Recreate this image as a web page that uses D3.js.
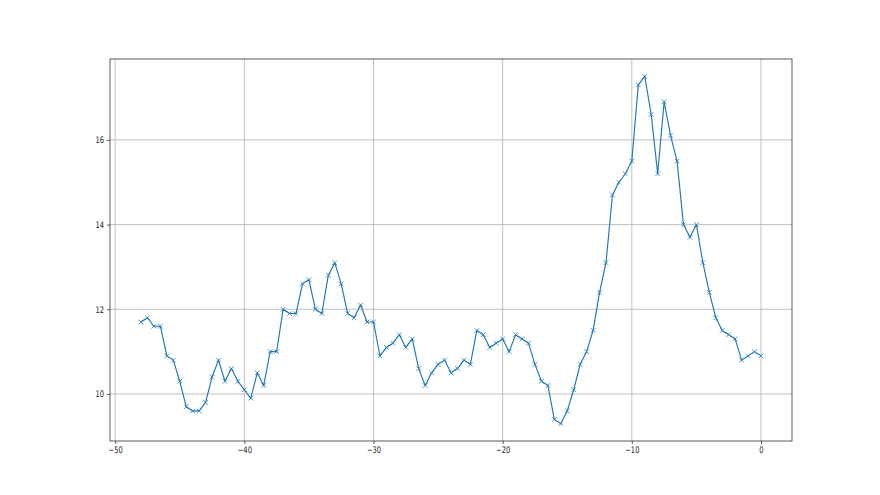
<!DOCTYPE html>
<html>
<head>
<meta charset="utf-8">
<script src="https://cdn.jsdelivr.net/npm/d3@7"></script>
<style>
  html, body { margin: 0; padding: 0; background: #fff; }
  svg { display: block; }
  text { font-family: "DejaVu Sans", sans-serif; }
</style>
</head>
<body>
<svg id="chart" width="880" height="495"></svg>
<script>
const xValues = d3.range(97).map(i => -48 + i * 0.5);
const yValues = [
  11.7, 11.8, 11.6, 11.6, 10.9, 10.8, 10.3, 9.7, 9.6, 9.6,
  9.8, 10.4, 10.8, 10.3, 10.6, 10.3, 10.1, 9.9, 10.5, 10.2,
  11.0, 11.0, 12.0, 11.9, 11.9, 12.6, 12.7, 12.0, 11.9, 12.8,
  13.1, 12.6, 11.9, 11.8, 12.1, 11.7, 11.7, 10.9, 11.1, 11.2,
  11.4, 11.1, 11.3, 10.6, 10.2, 10.5, 10.7, 10.8, 10.5, 10.6,
  10.8, 10.7, 11.5, 11.4, 11.1, 11.2, 11.3, 11.0, 11.4, 11.3,
  11.2, 10.7, 10.3, 10.2, 9.4, 9.3, 9.6, 10.1, 10.7, 11.0,
  11.5, 12.4, 13.1, 14.7, 15.0, 15.2, 15.5, 17.3, 17.5, 16.6,
  15.2, 16.9, 16.1, 15.5, 14.0, 13.7, 14.0, 13.1, 12.4, 11.8,
  11.5, 11.4, 11.3, 10.8, 10.9, 11.0, 10.9
];
const xTicks = [-50, -40, -30, -20, -10, 0];
const yTicks = [10, 12, 14, 16];

(function () {
const data = xValues.map((x, i) => ({ x, y: yValues[i] }));

const mLeft = 110, mRight = 792, mTop = 59, mBottom = 441;
const svg = d3.select("#chart");

const xMin = d3.min(xValues), xMax = d3.max(xValues);
const yMin = d3.min(yValues), yMax = d3.max(yValues);
const xPad = (xMax - xMin) * 0.05, yPad = (yMax - yMin) * 0.05;

const x = d3.scaleLinear().domain([xMin - xPad, xMax + xPad]).range([mLeft, mRight]);
const y = d3.scaleLinear().domain([yMin - yPad, yMax + yPad]).range([mBottom, mTop]);

// grid
const grid = svg.append("g");
grid.selectAll("line.vx").data(xTicks).enter().append("line")
  .attr("x1", d => x(d)).attr("x2", d => x(d))
  .attr("y1", mTop).attr("y2", mBottom)
  .attr("stroke", "#b0b0b0").attr("stroke-width", 0.8);
grid.selectAll("line.hy").data(yTicks).enter().append("line")
  .attr("y1", d => y(d)).attr("y2", d => y(d))
  .attr("x1", mLeft).attr("x2", mRight)
  .attr("stroke", "#b0b0b0").attr("stroke-width", 0.8);

// line
const line = d3.line().x(d => x(d.x)).y(d => y(d.y));
svg.append("path").datum(data)
  .attr("d", line)
  .attr("fill", "none")
  .attr("stroke", "#1f77b4")
  .attr("stroke-width", 1.15)
  .attr("stroke-linejoin", "round");

// markers
const ms = 2.3;
svg.append("g").selectAll("path").data(data).enter().append("path")
  .attr("d", d => {
    const cx = x(d.x), cy = y(d.y);
    return `M${cx - ms},${cy - ms}L${cx + ms},${cy + ms}M${cx - ms},${cy + ms}L${cx + ms},${cy - ms}`;
  })
  .attr("stroke", "#1f77b4")
  .attr("stroke-width", 0.8)
  .attr("fill", "none");

// axes
const fmt = d => d < 0 ? "\u2212" + Math.abs(d) : String(d);
const xAxis = d3.axisBottom(x).tickValues(xTicks).tickFormat(fmt).tickSize(3).tickPadding(3);
const yAxis = d3.axisLeft(y).tickValues(yTicks).tickFormat(fmt).tickSize(3).tickPadding(3);

const gx = svg.append("g").attr("transform", `translate(0,${mBottom})`).call(xAxis);
const gy = svg.append("g").attr("transform", `translate(${mLeft},0)`).call(yAxis);
[gx, gy].forEach(g => {
  g.select(".domain").remove();
  g.selectAll(".tick line").attr("stroke", "#333").attr("stroke-width", 0.8);
  g.selectAll(".tick text").attr("fill", "#222").style("font-size", "9px")
    .style("font-family", "'DejaVu Sans', sans-serif");
});
gx.selectAll(".tick text").attr("transform", "scale(0.75,1)");
gy.selectAll(".tick text").attr("x", -8).attr("transform", "scale(0.75,1)");

// spines
svg.append("rect")
  .attr("x", mLeft).attr("y", mTop)
  .attr("width", mRight - mLeft).attr("height", mBottom - mTop)
  .attr("fill", "none").attr("stroke", "#333").attr("stroke-width", 0.8);
})();
</script>
</body>
</html>
